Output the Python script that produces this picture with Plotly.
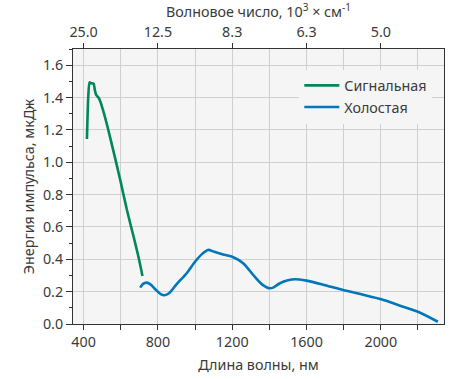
import plotly.graph_objects as go

# Signal wave: wavelength (nm) vs pulse energy (uJ)
signal_nm = [418, 425, 432, 440, 454, 460, 467, 480, 490, 505, 526, 561, 597, 633, 669, 695, 717]
signal_uj = [1.144, 1.40, 1.494, 1.488, 1.486, 1.45, 1.418, 1.40, 1.376, 1.32, 1.232, 1.067, 0.892, 0.706, 0.541, 0.417, 0.297]

# Idler wave
idler_nm = [705, 720, 740, 760, 790, 815, 835, 860, 900, 955, 1000, 1040, 1070, 1100, 1150, 1206,
            1259, 1313, 1360, 1400, 1420, 1457, 1500, 1537, 1600, 1700, 1797, 1900, 2003, 2100, 2200, 2307]
idler_uj = [0.225, 0.248, 0.256, 0.245, 0.21, 0.185, 0.178, 0.19, 0.245, 0.314, 0.385, 0.435, 0.458, 0.448,
            0.43, 0.413, 0.376, 0.303, 0.245, 0.221, 0.225, 0.252, 0.27, 0.277, 0.268, 0.24, 0.21, 0.182,
            0.153, 0.115, 0.076, 0.014]

# Top axis: wavenumber labels at the wavelength ticks
top_tick_nm = [400, 800, 1200, 1600, 2000]
top_tick_text = ["25.0", "12.5", "8.3", "6.3", "5.0"]

FONT = "Noto Sans"
TXT = "#3a3a3a"
GRID = "#cfcfcf"
FS = 14.3

fig = go.Figure()
fig.add_trace(go.Scatter(x=signal_nm, y=signal_uj, mode="lines", name="Сигнальная",
                         line=dict(color="#00875a", width=2.6, shape="spline", smoothing=0.6)))
fig.add_trace(go.Scatter(x=idler_nm, y=idler_uj, mode="lines", name="Холостая",
                         line=dict(color="#0077bb", width=2.6, shape="spline", smoothing=0.8)))
# invisible trace so the top axis is rendered
fig.add_trace(go.Scatter(x=top_tick_nm, y=[0] * len(top_tick_nm), xaxis="x2", mode="lines",
                         line=dict(width=0), opacity=0, showlegend=False, hoverinfo="skip"))

fig.update_layout(
    width=453, height=379,
    margin=dict(l=73, r=9, t=49, b=55),
    paper_bgcolor="white",
    plot_bgcolor="#f5f5f5",
    font=dict(family=FONT, size=FS, color=TXT),
    showlegend=True,
    legend=dict(x=0.61, y=0.925, xanchor="left", yanchor="top", bgcolor="#f5f5f5",
                font=dict(size=FS, color=TXT), itemwidth=35, tracegroupgap=0),
    xaxis=dict(
        range=[343, 2340], tick0=400, dtick=400, ticks="outside", ticklen=5, tickcolor="#333",
        showline=True, linecolor="#333", linewidth=1, mirror=True,
        showgrid=True, gridcolor=GRID, gridwidth=1, zeroline=False,
        minor=dict(dtick=200, tick0=400, ticks="outside", ticklen=5, tickcolor="#333",
                   showgrid=True, gridcolor=GRID),
        title=dict(text="Длина волны, нм", font=dict(size=FS, color=TXT), standoff=9),
    ),
    xaxis2=dict(
        overlaying="x", side="top", range=[343, 2340],
        tickvals=top_tick_nm, ticktext=top_tick_text,
        ticks="outside", ticklen=5, tickcolor="#333", showgrid=False, showline=False, zeroline=False,
        title=dict(text="Волновое число, 10<sup>3</sup> × см<sup>-1</sup>", font=dict(size=FS, color=TXT),
                   standoff=1),
    ),
    yaxis=dict(
        range=[0, 1.7], tick0=0, dtick=0.2, tickformat=".1f", ticks="outside", ticklen=6, tickcolor="#333",
        showline=True, linecolor="#333", linewidth=1, mirror=True,
        showgrid=True, gridcolor=GRID, gridwidth=1, zeroline=False,
        minor=dict(dtick=0.1, ticks="outside", ticklen=3.5, tickcolor="#333", showgrid=False),
        title=dict(text="Энергия импульса, мкДж", font=dict(size=FS, color=TXT), standoff=4),
    ),
)

fig.write_html("out.html")
